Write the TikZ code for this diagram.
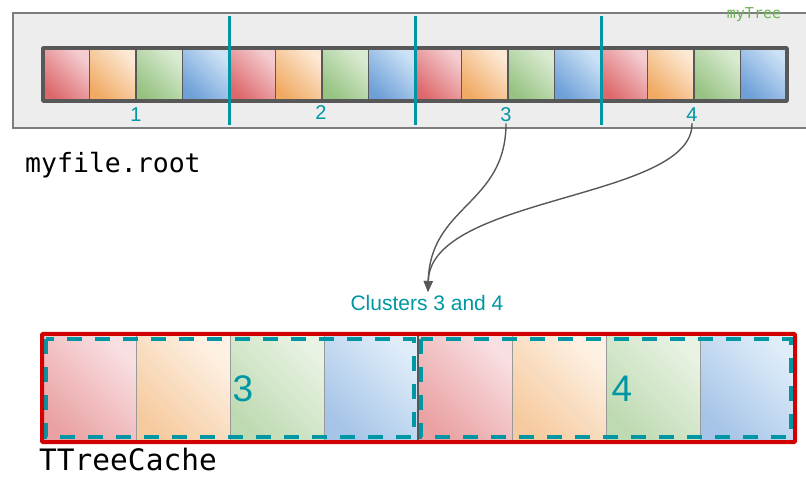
\documentclass[tikz,border=0pt]{standalone}
\usepackage{fontspec}
\setmainfont{Liberation Sans}
\newfontfamily\monof{DejaVu Sans Mono}
\usetikzlibrary{arrows.meta}
\definecolor{tealc}{RGB}{0,150,163}
\definecolor{boxgray}{RGB}{237,237,237}
\definecolor{boxline}{RGB}{125,125,125}
\definecolor{darkline}{RGB}{88,88,88}
\definecolor{redD}{RGB}{221,104,107}
\definecolor{redL}{RGB}{244,205,209}
\definecolor{orgD}{RGB}{241,170,100}
\definecolor{orgL}{RGB}{252,233,212}
\definecolor{grnD}{RGB}{150,195,130}
\definecolor{grnL}{RGB}{218,235,210}
\definecolor{bluD}{RGB}{110,160,216}
\definecolor{bluL}{RGB}{204,226,246}
\definecolor{treegreen}{RGB}{110,180,85}
\definecolor{cacheRed}{RGB}{210,0,0}
\tikzset{
  cellshade/.style 2 args={top color=#2, bottom color=#1, shading angle=-45},
  sep/.style={draw=tealc, line width=3pt},
  numlbl/.style={text=tealc, font=\fontsize{20}{22}\selectfont, inner sep=1pt},
  biglbl/.style={text=tealc, font=\fontsize{37}{40}\selectfont, inner sep=0pt},
  conn/.style={draw=darkline, line width=1.4pt, -{Triangle[length=11pt,width=9pt]}},
  clusterbox/.style={draw=tealc, line width=3.8pt, dash pattern=on 15pt off 13pt},
}
\begin{document}
\begin{tikzpicture}[x=1pt,y=-1pt]
\useasboundingbox (0,0) rectangle (806,478);
\clip (0,0) rectangle (806,478);
% file box
\draw[fill=boxgray, draw=boxline, line width=1.5pt] (13,13) rectangle (815,128);
\node[text=treegreen, font=\monof\fontsize{15}{16}\selectfont, inner sep=0pt] (mytree) at (754,15) {myTree};
% top cells
\foreach \k in {0,...,3}{
  \foreach \d/\l/\j in {redD/redL/0,orgD/orgL/1,grnD/grnL/2,bluD/bluL/3}{
    \shade[cellshade={\d}{\l}] ({43+(4*\k+\j)*46.5},48) rectangle +(46.5,53);
  }
}
\foreach \i in {1,...,15}{
  \draw[draw=darkline, line width=1.5pt] ({43+\i*46.5},48) -- ({43+\i*46.5},101);
}
\draw[draw=darkline, line width=3.5pt, line join=round] (43,48) rectangle (787,101);
% cluster separators
\foreach \x in {229,415,601}{
  \draw[sep] (\x,16) -- (\x,125);
}
\node[numlbl] (c1) at (136,115) {1};
\node[numlbl] (c2) at (321,113) {2};
\node[numlbl] (c3) at (506,115) {3};
\node[numlbl] (c4) at (692,115) {4};
\node[anchor=west, font=\monof\fontsize{26.5}{28}\selectfont, inner sep=0pt] (myfile) at (25,165) {myfile.root};
% label
\node[text=tealc, font=\fontsize{21}{23}\selectfont, inner sep=1pt] (clusters) at (427,303) {Clusters 3 and 4};
\coordinate (tip) at (428,292);
\draw[conn] (c3.south) .. controls (506,205) and (430,205) .. (tip);
\draw[conn] (c4.south) .. controls (694,200) and (430,195) .. (tip);
% TTreeCache
\foreach \k in {0,1}{
  \foreach \d/\l/\j in {redD/redL/0,orgD/orgL/1,grnD/grnL/2,bluD/bluL/3}{
    \shade[cellshade={\d}{\l}, opacity=0.62] ({42+(4*\k+\j)*94.125},334) rectangle +(94.125,108);
  }
}
\foreach \i in {1,2,3,5,6,7}{
  \draw[draw=gray!80, line width=1pt] ({42+\i*94.125},334) -- ({42+\i*94.125},442);
}
\draw[draw=darkline, line width=1.2pt] (418,334) -- (418,442);
\draw[clusterbox] (46,339) rectangle (414,437);
\draw[clusterbox] (421,339) rectangle (791,437);
\draw[draw=cacheRed, line width=4pt, rounded corners=1pt] (42,334) rectangle (795,442);
\node[biglbl] (b3) at (243,389) {3};
\node[biglbl] (b4) at (622,389) {4};
\node[anchor=base west, font=\monof\fontsize{29.5}{31}\selectfont, inner sep=0pt] (cache) at (39,470) {TTreeCache};
\end{tikzpicture}
\end{document}
